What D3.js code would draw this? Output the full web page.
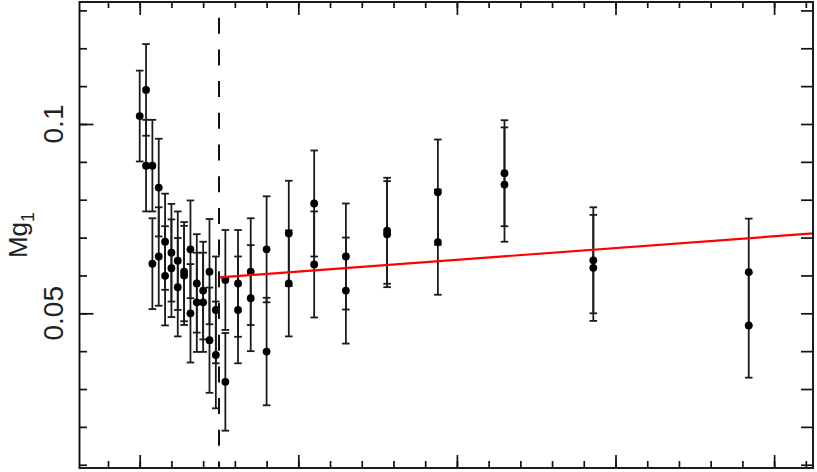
<!DOCTYPE html>
<html>
<head>
<meta charset="utf-8">
<script src="https://cdn.jsdelivr.net/npm/d3@7/dist/d3.min.js"></script>
<style>
  body { margin: 0; background: #fff; }
  .frame { fill: none; stroke: #111; stroke-width: 1.9px; }
  .axis path { display: none; }
  .axis line { stroke: #111; stroke-width: 1.7px; }
  .err { stroke: #1a1a1a; stroke-width: 1.8px; }
  .dot { fill: #000; }
  .fit { fill: none; stroke: #ff0000; stroke-width: 2.2px; }
  .cut { stroke: #111; stroke-width: 2px; stroke-dasharray: 16 15.7; stroke-dashoffset: 16; }
  .lbl { font-family: "Liberation Sans", Arial, sans-serif; fill: #222; }
</style>
</head>
<body>
<div id="chart"></div>
<script>
// radius of each measurement (axis has no labels, minor tick = 1 unit)
const radius = [
  0.0, 0.2, 0.2, 0.4, 0.4, 0.6, 0.6, 0.8, 0.8, 1.0, 1.0, 1.2, 1.2,
  1.4, 1.4, 1.6, 1.6, 1.8, 1.8, 2.0, 2.0, 2.2, 2.2, 2.4, 2.4,
  2.7, 2.7, 3.1, 3.1, 3.5, 3.5, 4.0, 4.0, 4.7, 4.7, 5.5, 5.5,
  6.5, 6.5, 7.8, 7.8, 9.4, 9.4, 11.5, 11.5, 14.3, 14.3, 19.2, 19.2
];
const mg1 = [
  0.1021, 0.1090, 0.0890, 0.0890, 0.0631, 0.0832, 0.0650, 0.0689, 0.0599, 0.0660, 0.0619, 0.0639, 0.0569,
  0.0610, 0.0600, 0.0669, 0.0500, 0.0579, 0.0529, 0.0560, 0.0529, 0.0610, 0.0429, 0.0509, 0.0390,
  0.0588, 0.0319, 0.0579, 0.0509, 0.0610, 0.0540, 0.0669, 0.0399, 0.0711, 0.0579, 0.0790, 0.0629,
  0.0650, 0.0560, 0.0718, 0.0709, 0.0820, 0.0688, 0.0870, 0.0840, 0.0640, 0.0620, 0.0609, 0.0468
];
const mg1Err = [
  0.0120, 0.0121, 0.0121, 0.0121, 0.0120, 0.0129, 0.0130, 0.0127, 0.0131, 0.0129, 0.0129, 0.0130, 0.0130,
  0.0131, 0.0131, 0.0129, 0.0130, 0.0130, 0.0131, 0.0129, 0.0131, 0.0139, 0.0139, 0.0141, 0.0141,
  0.0132, 0.0129, 0.0141, 0.0141, 0.0141, 0.0140, 0.0140, 0.0142, 0.0139, 0.0140, 0.0140, 0.0140,
  0.0140, 0.0140, 0.0140, 0.0140, 0.0139, 0.0139, 0.0140, 0.0151, 0.0140, 0.0140, 0.0141, 0.0138
];
const cutRadius = 2.5;
const fitRadius = [2.53, 21.23];
const fitMg1 = [0.0595, 0.0711];
const yLabelTicks = [0.05, 0.1];
const yLabelText = ["0.05", "0.1"];

const W = 817, H = 472;
const margin = {top: 2, right: 4, bottom: 4, left: 79.5};
const width = W - margin.left - margin.right;
const height = H - margin.top - margin.bottom;

const x = d3.scaleLinear().domain([-1.898, 21.226]).range([0, width]);
const y = d3.scaleLinear().domain([0.00914, 0.13222]).range([height, 0]);

const svg = d3.select("#chart").append("svg")
  .attr("width", W).attr("height", H);

const g = svg.append("g")
  .attr("transform", "translate(" + margin.left + "," + margin.top + ")");

const minorX = d3.range(-1, 22, 1);
const majorX = [0, 5, 10, 15, 20];
const minorY = d3.range(1, 14).map(function(d) { return d / 100; });

// inward ticks on all four sides
g.append("g").attr("class", "axis").attr("transform", "translate(0," + height + ")")
  .call(d3.axisBottom(x).tickValues(minorX).tickSize(-7).tickFormat(""));
g.append("g").attr("class", "axis").attr("transform", "translate(0," + height + ")")
  .call(d3.axisBottom(x).tickValues(majorX).tickSize(-13).tickFormat(""));
g.append("g").attr("class", "axis")
  .call(d3.axisTop(x).tickValues(minorX).tickSize(-6).tickFormat(""));
g.append("g").attr("class", "axis")
  .call(d3.axisTop(x).tickValues(majorX).tickSize(-13).tickFormat(""));
g.append("g").attr("class", "axis")
  .call(d3.axisLeft(y).tickValues(minorY).tickSize(-7.5).tickFormat(""));
g.append("g").attr("class", "axis")
  .call(d3.axisLeft(y).tickValues(yLabelTicks).tickSize(-14).tickFormat(""));
g.append("g").attr("class", "axis").attr("transform", "translate(" + width + ",0)")
  .call(d3.axisRight(y).tickValues(minorY).tickSize(-12).tickFormat(""));

// tick labels, rotated like the original
yLabelTicks.forEach(function(v, i) {
  g.append("text")
    .attr("class", "lbl")
    .attr("transform", "translate(-17," + y(v) + ") rotate(-90)")
    .attr("text-anchor", "middle")
    .style("font-size", "28px")
    .text(yLabelText[i]);
});

const title = svg.append("text")
  .attr("class", "lbl")
  .attr("transform", "translate(27,235) rotate(-90)")
  .attr("text-anchor", "middle")
  .style("font-size", "26px");
title.append("tspan").text("Mg");
title.append("tspan").attr("dy", 7).style("font-size", "18px").text("1");

// error bars
const pts = radius.map(function(r, i) { return {r: r, v: mg1[i], e: mg1Err[i]}; });
const cap = 3.8;

const bars = g.append("g");
pts.forEach(function(d) {
  const cx = x(d.r), y0 = y(d.v - d.e), y1 = y(d.v + d.e);
  bars.append("line").attr("class", "err")
    .attr("x1", cx).attr("x2", cx).attr("y1", y0).attr("y2", y1);
  [y0, y1].forEach(function(yy) {
    bars.append("line").attr("class", "err")
      .attr("x1", cx - cap).attr("x2", cx + cap).attr("y1", yy).attr("y2", yy);
  });
});

g.selectAll(".dot")
  .data(pts)
  .enter()
  .append("circle")
  .attr("class", "dot")
  .attr("cx", function(d) { return x(d.r); })
  .attr("cy", function(d) { return y(d.v); })
  .attr("r", 3.9);

// cut radius
g.append("line").attr("class", "cut")
  .attr("x1", x(cutRadius)).attr("x2", x(cutRadius))
  .attr("y1", 0).attr("y2", height);

// linear fit outside the cut
const fitLine = d3.line()
  .x(function(d) { return x(d[0]); })
  .y(function(d) { return y(d[1]); });
g.append("path").attr("class", "fit")
  .datum(fitRadius.map(function(r, i) { return [r, fitMg1[i]]; }))
  .attr("d", fitLine);

g.append("rect").attr("class", "frame")
  .attr("width", width).attr("height", height);
</script>
</body>
</html>
